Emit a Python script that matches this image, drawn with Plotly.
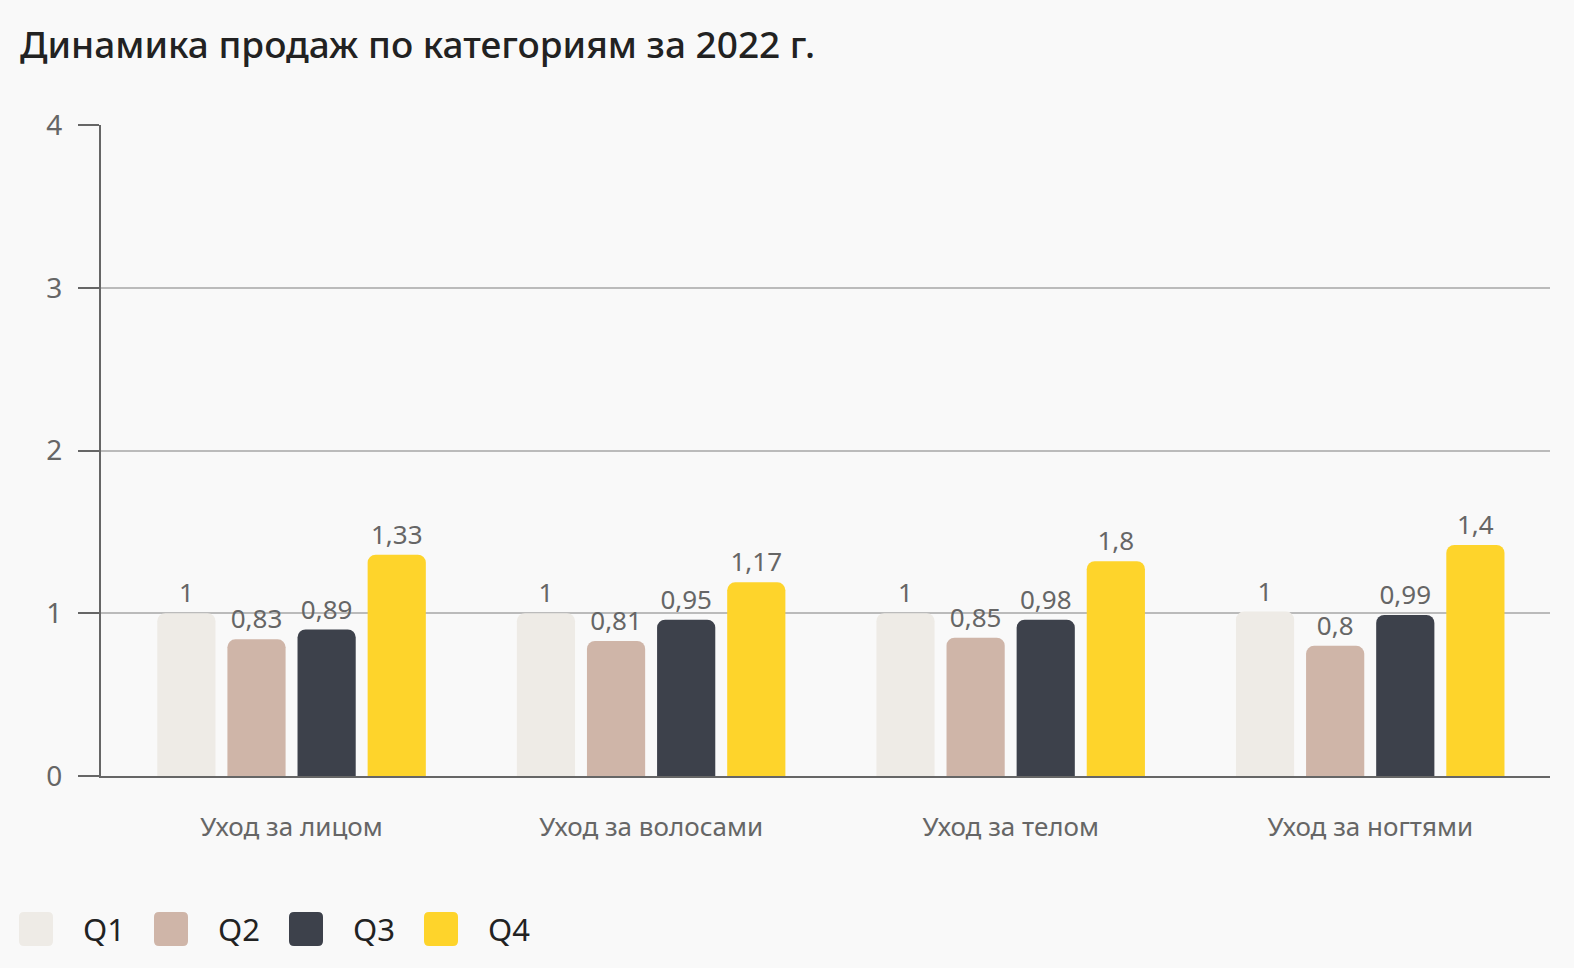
import plotly.graph_objects as go

categories = ["Уход за лицом", "Уход за волосами", "Уход за телом", "Уход за ногтями"]
series_names = ["Q1", "Q2", "Q3", "Q4"]
q1_values = [1.0, 1.0, 1.0, 1.01]
q2_values = [0.84, 0.83, 0.85, 0.80]
q3_values = [0.90, 0.96, 0.96, 0.99]
q4_values = [1.36, 1.19, 1.32, 1.42]
q1_labels = ["1", "1", "1", "1"]
q2_labels = ["0,83", "0,81", "0,85", "0,8"]
q3_labels = ["0,89", "0,95", "0,98", "0,99"]
q4_labels = ["1,33", "1,17", "1,8", "1,4"]
y_ticks = [0, 1, 2, 3, 4]

colors = ["#EEEBE6", "#CFB5A8", "#3D414B", "#FED42B"]
values = [q1_values, q2_values, q3_values, q4_values]
labels = [q1_labels, q2_labels, q3_labels, q4_labels]

W, H = 1574, 968
ML, MR, MT, MB = 101, 24, 125, 192
BG = "#F9F9F9"
FONT = "Noto Sans"

fig = go.Figure()
for name, vals, labs, col in zip(series_names, values, labels, colors):
    fig.add_trace(go.Bar(
        name=name, x=categories, y=vals, text=labs,
        texttemplate="%{text}", textposition="outside",
        textfont=dict(family=FONT, size=26, color="#666666"),
        constraintext="none", cliponaxis=False,
        marker=dict(color=col, line=dict(width=0), cornerradius=8),
        showlegend=False, hoverinfo="skip",
    ))

# Custom legend (large rounded squares)
pw = W - ML - MR
ph = H - MT - MB
shapes = []
annotations = []
leg_x0 = 36
leg_step = 135
leg_y = 929
r = 5
hw, hh = 17, 17
rect_path = (f"M {-hw+r},{-hh} L {hw-r},{-hh} Q {hw},{-hh} {hw},{-hh+r} "
             f"L {hw},{hh-r} Q {hw},{hh} {hw-r},{hh} L {-hw+r},{hh} "
             f"Q {-hw},{hh} {-hw},{hh-r} L {-hw},{-hh+r} Q {-hw},{-hh} {-hw+r},{-hh} Z")
for i, (name, col) in enumerate(zip(series_names, colors)):
    cx = leg_x0 + i * leg_step
    ax = (cx - ML) / pw
    ay = (H - MB - leg_y) / ph
    shapes.append(dict(type="path", xref="paper", yref="paper",
                       xsizemode="pixel", ysizemode="pixel",
                       xanchor=ax, yanchor=ay, path=rect_path,
                       fillcolor=col, line=dict(width=0), layer="above"))
    annotations.append(dict(xref="paper", yref="paper",
                            x=(cx + 45 - ML) / pw, y=ay,
                            xanchor="left", yanchor="middle", showarrow=False,
                            text=name, font=dict(family=FONT, size=31, color="#222222")))

fig.update_layout(
    width=W, height=H,
    margin=dict(l=ML, r=MR, t=MT, b=MB, pad=0),
    paper_bgcolor=BG, plot_bgcolor=BG,
    barmode="group", bargap=0.22, bargroupgap=0.17,
    title=dict(text="Динамика продаж по категориям за 2022 г.",
               x=20 / W, xref="container", xanchor="left",
               y=1 - 45 / H, yref="container", yanchor="middle",
               font=dict(family=FONT, size=37, color="#222222", weight=500)),
    xaxis=dict(range=[-0.53, 3.50], showgrid=False, showline=True,
               linecolor="#666666", linewidth=2, ticks="",
               tickfont=dict(family=FONT, size=26, color="#666666"),
               ticklabelstandoff=27, zeroline=False),
    yaxis=dict(range=[0, 4], tickvals=y_ticks, ticktext=[str(v) for v in y_ticks],
               showgrid=True, gridcolor="#BBBBBB", gridwidth=1.5,
               showline=True, linecolor="#666666", linewidth=2,
               ticks="outside", ticklen=21, tickwidth=2, tickcolor="#666666",
               tickfont=dict(family=FONT, size=28, color="#666666"),
               ticklabelstandoff=10, zeroline=False),
    shapes=shapes, annotations=annotations,
)

fig.write_html("out.html", config={"displayModeBar": False},
               post_script="document.body.style.margin='0';")
